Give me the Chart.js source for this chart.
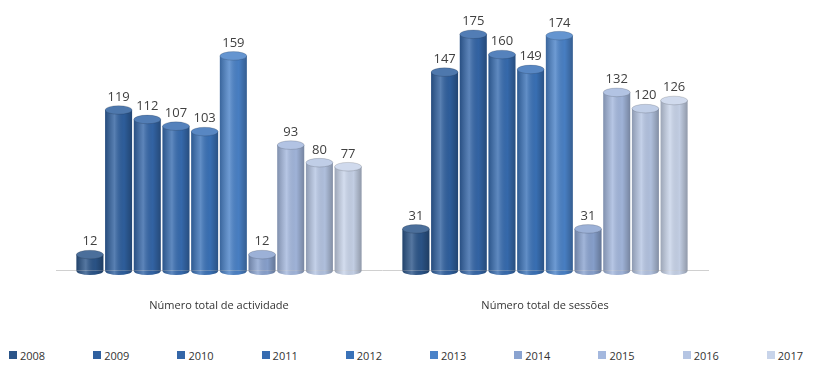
<!DOCTYPE html>
<html>
<head>
<meta charset="utf-8">
<script src="https://cdn.jsdelivr.net/npm/chart.js@4.4.1/dist/chart.umd.min.js"></script>
<style>
  html, body { margin: 0; padding: 0; background: #fff; }
  #wrap { width: 823px; height: 340px; position: relative; }
  #legend {
    position: absolute; left: 0; top: 346px; width: 823px; height: 18px;
    display: flex; justify-content: space-between; box-sizing: border-box;
    padding: 0 20px 0 9px;
    font: 11px 'Open Sans', 'Liberation Sans', sans-serif; color: #333;
  }
  #legend span { display: flex; align-items: center; }
  #legend i { display: inline-block; width: 8px; height: 8px; margin-right: 3px; }
</style>
</head>
<body>
<div id="wrap"><canvas id="chart"></canvas></div>
<div id="legend"></div>
<script>
(function() {
  'use strict';

  // === DATA ===
  const categories = ['Número total de actividade', 'Número total de sessões'];
  const years = ['2008', '2009', '2010', '2011', '2012', '2013', '2014', '2015', '2016', '2017'];
  const actividade = [12, 119, 112, 107, 103, 159, 12, 93, 80, 77];
  const sessoes = [31, 147, 175, 160, 149, 174, 31, 132, 120, 126];
  const colors = ['#2b5589', '#2f609f', '#3466a8', '#376cb0', '#3a72b8', '#4a82c8',
                  '#8aa3d0', '#a4b8de', '#b5c5e3', '#c8d4ea'];

  const FONT = 'Open Sans, Liberation Sans, sans-serif';

  function lighten(hex, amt) {
    const n = parseInt(hex.slice(1), 16);
    const r = (n >> 16) & 255, g = (n >> 8) & 255, b = n & 255;
    const f = function(c) { return Math.round(c + (255 - c) * amt); };
    return 'rgb(' + f(r) + ',' + f(g) + ',' + f(b) + ')';
  }

  // === CYLINDER LOOK + VALUE LABELS ===
  const cylinderPlugin = {
    id: 'cylinder',
    afterDatasetsDraw: function(chart) {
      const ctx = chart.ctx;
      chart.data.datasets.forEach(function(ds, di) {
        const meta = chart.getDatasetMeta(di);
        meta.data.forEach(function(bar, i) {
          const w = bar.width, x = bar.x, top = bar.y, base = bar.base;
          const left = x - w / 2;
          const ry = Math.max(3, w * 0.16);
          ctx.save();
          // bottom rounded end
          ctx.fillStyle = ds.backgroundColor;
          ctx.beginPath();
          ctx.ellipse(x, base, w / 2, ry, 0, 0, Math.PI);
          ctx.fill();
          // shading across the body
          const grad = ctx.createLinearGradient(left, 0, left + w, 0);
          grad.addColorStop(0, 'rgba(0,0,0,0.22)');
          grad.addColorStop(0.35, 'rgba(255,255,255,0.2)');
          grad.addColorStop(0.7, 'rgba(0,0,0,0.03)');
          grad.addColorStop(1, 'rgba(0,0,0,0.28)');
          ctx.fillStyle = grad;
          ctx.beginPath();
          ctx.moveTo(left, top);
          ctx.lineTo(left + w, top);
          ctx.lineTo(left + w, base);
          ctx.ellipse(x, base, w / 2, ry, 0, 0, Math.PI);
          ctx.closePath();
          ctx.fill();
          // top cap
          ctx.fillStyle = lighten(ds.backgroundColor, 0.15);
          ctx.strokeStyle = 'rgba(0,0,0,0.15)';
          ctx.lineWidth = 1;
          ctx.beginPath();
          ctx.ellipse(x, top, w / 2, ry, 0, 0, Math.PI * 2);
          ctx.fill();
          ctx.stroke();
          // value label
          ctx.fillStyle = '#404040';
          ctx.font = '13px ' + FONT;
          ctx.textAlign = 'center';
          ctx.textBaseline = 'bottom';
          ctx.fillText(ds.data[i], x, top - ry - 2);
          ctx.restore();
        });
      });
    }
  };

  const datasets = years.map(function(y, i) {
    return {
      label: y,
      data: [actividade[i], sessoes[i]],
      backgroundColor: colors[i],
      borderWidth: 0
    };
  });

  new Chart(document.getElementById('chart'), {
    type: 'bar',
    data: { labels: categories, datasets: datasets },
    plugins: [cylinderPlugin],
    options: {
      responsive: true,
      maintainAspectRatio: false,
      animation: false,
      layout: { padding: { left: 0, right: 0, top: 14, bottom: 0 } },
      datasets: { bar: { categoryPercentage: 0.88, barPercentage: 0.94 } },
      plugins: {
        legend: { display: false },
        tooltip: { enabled: false }
      },
      scales: {
        x: {
          grid: { display: false, drawTicks: false },
          border: { color: '#d0d0d0' },
          ticks: { color: '#333', padding: 28, font: { family: FONT, size: 11 } }
        },
        y: {
          min: 0,
          max: 190,
          grid: { display: false },
          border: { display: false },
          ticks: { display: false },
          afterFit: function(scale) { scale.width = 56; }
        },
        yr: {
          position: 'right',
          min: 0,
          max: 190,
          grid: { display: false },
          border: { display: false },
          ticks: { display: false },
          afterFit: function(scale) { scale.width = 115; }
        }
      }
    }
  });

  // === LEGEND ===
  const legend = document.getElementById('legend');
  years.forEach(function(y, i) {
    const item = document.createElement('span');
    const box = document.createElement('i');
    box.style.background = colors[i];
    item.appendChild(box);
    item.appendChild(document.createTextNode(y));
    legend.appendChild(item);
  });
})();
</script>
</body>
</html>
